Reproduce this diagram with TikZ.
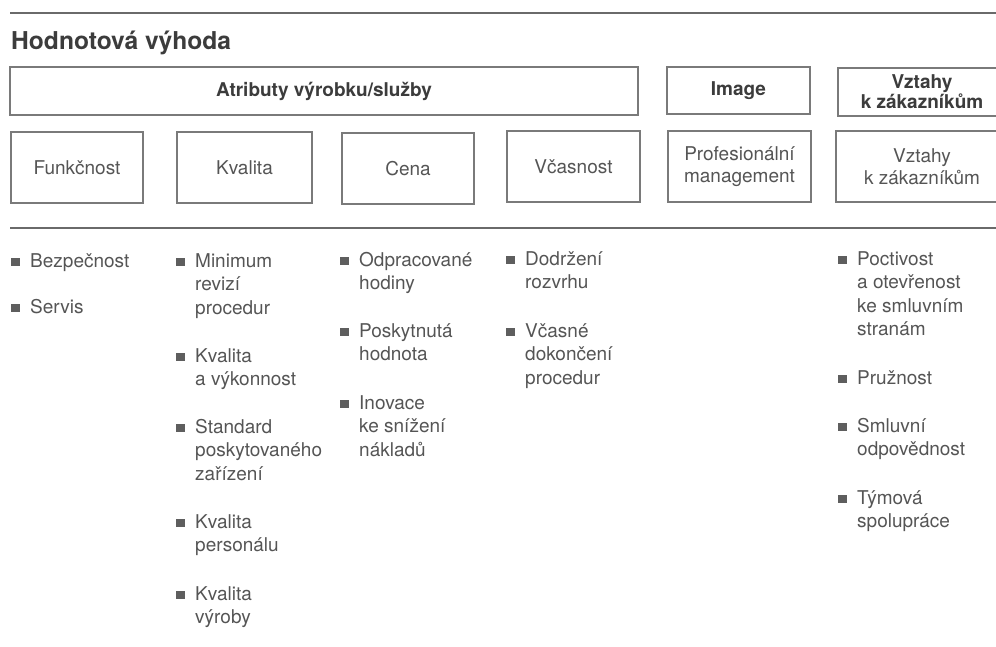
\documentclass[tikz,border=0pt]{standalone}
\usepackage{fontspec}
\setmainfont{TeX Gyre Heros}
\usepackage{array}
\definecolor{txtc}{HTML}{555555}
\definecolor{hdc}{HTML}{3C3C3C}
\definecolor{boxc}{HTML}{7A7A7A}
\definecolor{rulec}{HTML}{6A6A6A}
\definecolor{bulc}{HTML}{5E5E5E}
\newcommand{\itemsq}{\textcolor{bulc}{\rule[1pt]{8.5pt}{8.5pt}}}
\newcommand{\itemlist}[1]{\begin{tabular}[t]{@{}p{19pt}@{}l@{}}#1\end{tabular}}
\begin{document}
\begin{tikzpicture}[x=1pt,y=-1pt,
  body/.style={font=\fontsize{19}{23.5}\selectfont, text=txtc},
  head/.style={font=\bfseries\fontsize{19}{20}\selectfont, text=hdc},
  box/.style={draw=boxc, line width=1.2pt, inner sep=0pt, align=center},
  toprow/.style={box, head, minimum height=48pt},
  botrow/.style={box, body, font=\fontsize{19}{21.5}\selectfont, minimum height=71pt},
  entry/.style={body, inner sep=0pt, anchor=base west},
  hrule/.style={draw=rulec, line width=1.6pt}]
\path[use as bounding box, clip] (0,0) rectangle (996,646);
\fill[white] (0,0) rectangle (996,646);

% horizontal rules
\coordinate (r1a) at (10,13);  \coordinate (r1b) at (996,13);
\coordinate (r2a) at (10,228); \coordinate (r2b) at (996,228);
\draw[hrule] (r1a) -- (r1b);
\draw[hrule] (r2a) -- (r2b);

% title
\node[anchor=base west, inner sep=0pt, font=\bfseries\fontsize{24.6}{28}\selectfont, text=hdc] (title) at (11,49) {Hodnotová výhoda};

% top row
\node[toprow, minimum width=628pt] (attr) at (324,91) {Atributy výrobku/služby};
\node[toprow, minimum width=143pt, minimum height=47pt] (image) at (738.5,90.5) {Image};
\node[toprow, minimum width=168pt] (vzt1) at (922,92) {Vztahy\\k zákazníkům};

% second row
\node[botrow, minimum width=132pt] (funk) at (77,167.5) {Funkčnost};
\node[botrow, minimum width=135pt] (kval) at (244.5,167.5) {Kvalita};
\node[botrow, minimum width=132pt] (cena) at (408,168.5) {Cena};
\node[botrow, minimum width=133pt] (vcas) at (573.5,166.5) {Včasnost};
\node[botrow, minimum width=143pt] (prof) at (739.5,166.5) {Profesionální\\management};
\node[botrow, minimum width=172pt] (vzt2) at (922,166.5) {Vztahy\\k zákazníkům};

% column 1
\node[entry] (b11) at (11,267) {\itemlist{\itemsq & Bezpečnost}};
\node[entry] (b12) at (11,313) {\itemlist{\itemsq & Servis}};

% column 2
\node[entry] (b21) at (176,267) {\itemlist{\itemsq & Minimum\\ & revizí\\ & procedur}};
\node[entry] (b22) at (176,362) {\itemlist{\itemsq & Kvalita\\ & a výkonnost}};
\node[entry] (b23) at (176,433) {\itemlist{\itemsq & Standard\\ & poskytovaného\\ & zařízení}};
\node[entry] (b24) at (176,528) {\itemlist{\itemsq & Kvalita\\ & personálu}};
\node[entry] (b25) at (176,600) {\itemlist{\itemsq & Kvalita\\ & výroby}};

% column 3
\node[entry] (b31) at (340,266) {\itemlist{\itemsq & Odpracované\\ & hodiny}};
\node[entry] (b32) at (340,337) {\itemlist{\itemsq & Poskytnutá\\ & hodnota}};
\node[entry] (b33) at (340,409) {\itemlist{\itemsq & Inovace\\ & ke snížení\\ & nákladů}};

% column 4
\node[entry] (b41) at (506,265) {\itemlist{\itemsq & Dodržení\\ & rozvrhu}};
\node[entry] (b42) at (506,337) {\itemlist{\itemsq & Včasné\\ & dokončení\\ & procedur}};

% column 5
\node[entry] (b51) at (838,265) {\itemlist{\itemsq & Poctivost\\ & a otevřenost\\ & ke smluvním\\ & stranám}};
\node[entry] (b52) at (838,384) {\itemlist{\itemsq & Pružnost}};
\node[entry] (b53) at (838,432) {\itemlist{\itemsq & Smluvní\\ & odpovědnost}};
\node[entry] (b54) at (838,504) {\itemlist{\itemsq & Týmová\\ & spolupráce}};
\end{tikzpicture}
\end{document}
